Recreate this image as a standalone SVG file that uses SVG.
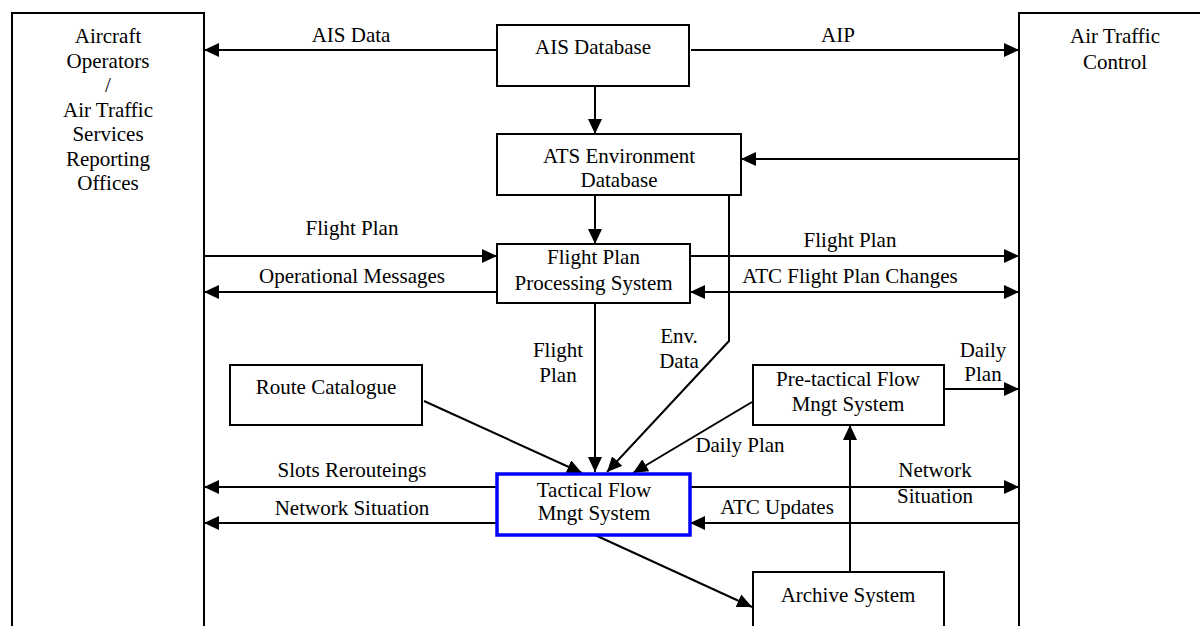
<svg xmlns="http://www.w3.org/2000/svg" width="1200" height="626" viewBox="0 0 1200 626">
  <style>
    .box { fill: #ffffff; stroke: #000000; stroke-width: 2; }
    .focus { fill: #ffffff; stroke: #0000ff; stroke-width: 3.5; }
    .edge { fill: none; stroke: #000000; stroke-width: 2; }
    text { font-family: "Liberation Serif", "Times New Roman", serif; font-size: 21px; fill: #000000; text-anchor: middle; }
  </style>
  <defs>
    <marker id="arrow" viewBox="0 0 15 14" refX="15" refY="7" markerWidth="15" markerHeight="14" markerUnits="userSpaceOnUse" orient="auto-start-reverse">
      <path d="M0,0 L15,7 L0,14 z" fill="#000000"/>
    </marker>
  </defs>
  <rect width="1200" height="626" fill="#ffffff"/>

  <!-- connectors -->
  <g id="connectors" class="edges">
    <path class="edge" d="M497,50 H204" marker-end="url(#arrow)"/>
    <path class="edge" d="M691,50 H1019" marker-end="url(#arrow)"/>
    <path class="edge" d="M595,86 V134" marker-end="url(#arrow)"/>
    <path class="edge" d="M1019,159 H741" marker-end="url(#arrow)"/>
    <path class="edge" d="M595,195 V244" marker-end="url(#arrow)"/>
    <path class="edge" d="M729,195 V341 L607,472" marker-end="url(#arrow)"/>
    <path class="edge" d="M204,256 H497" marker-end="url(#arrow)"/>
    <path class="edge" d="M497,292 H204" marker-end="url(#arrow)"/>
    <path class="edge" d="M690,256 H1019" marker-end="url(#arrow)"/>
    <path class="edge" d="M690,292 H1019" marker-start="url(#arrow)" marker-end="url(#arrow)"/>
    <path class="edge" d="M595,303 V472" marker-end="url(#arrow)"/>
    <path class="edge" d="M424,401 L582,473" marker-end="url(#arrow)"/>
    <path class="edge" d="M752,402 L633,473" marker-end="url(#arrow)"/>
    <path class="edge" d="M944,389 H1019" marker-end="url(#arrow)"/>
    <path class="edge" d="M497,487 H204" marker-end="url(#arrow)"/>
    <path class="edge" d="M497,523 H204" marker-end="url(#arrow)"/>
    <path class="edge" d="M690,487 H1019" marker-end="url(#arrow)"/>
    <path class="edge" d="M1019,523 H690" marker-end="url(#arrow)"/>
    <path class="edge" d="M850,572 V425" marker-end="url(#arrow)"/>
    <path class="edge" d="M595,535 L752,607" marker-end="url(#arrow)"/>

    <text x="351" y="42">AIS Data</text>
    <text x="838" y="42">AIP</text>
    <text x="352" y="235">Flight Plan</text>
    <text x="352" y="283">Operational Messages</text>
    <text x="850" y="247">Flight Plan</text>
    <text x="850" y="283">ATC Flight Plan Changes</text>
    <text x="558" y="357">Flight</text>
    <text x="558" y="382">Plan</text>
    <text x="679" y="343">Env.</text>
    <text x="679" y="368">Data</text>
    <text x="983" y="357">Daily</text>
    <text x="983" y="381">Plan</text>
    <text x="740" y="452">Daily Plan</text>
    <text x="352" y="477">Slots Rerouteings</text>
    <text x="352" y="515">Network Situation</text>
    <text x="935" y="477">Network</text>
    <text x="935" y="503">Situation</text>
    <text x="777" y="514">ATC Updates</text>
  </g>

  <!-- external actors -->
  <g id="aircraft-operators">
    <path class="edge" d="M12,640 V13 H204 V640"/>
    <text x="108" y="43">Aircraft</text>
    <text x="108" y="67.5">Operators</text>
    <text x="108" y="92">/</text>
    <text x="108" y="116.5">Air Traffic</text>
    <text x="108" y="141">Services</text>
    <text x="108" y="165.5">Reporting</text>
    <text x="108" y="190">Offices</text>
  </g>
  <g id="air-traffic-control">
    <path class="edge" d="M1019,640 V13 H1210"/>
    <text x="1115" y="43">Air Traffic</text>
    <text x="1115" y="69">Control</text>
  </g>

  <!-- systems -->
  <g id="ais-database">
    <rect class="box" x="497" y="25" width="192" height="61"/>
    <text x="593" y="54">AIS Database</text>
  </g>
  <g id="ats-environment-database">
    <rect class="box" x="497" y="134" width="244" height="61"/>
    <text x="619" y="163">ATS Environment</text>
    <text x="619" y="187">Database</text>
  </g>
  <g id="flight-plan-processing">
    <rect class="box" x="497" y="244" width="193" height="59"/>
    <text x="593.5" y="264">Flight Plan</text>
    <text x="593.5" y="290">Processing System</text>
  </g>
  <g id="route-catalogue">
    <rect class="box" x="230" y="365" width="192" height="60"/>
    <text x="326" y="394">Route Catalogue</text>
  </g>
  <g id="pre-tactical-flow">
    <rect class="box" x="753" y="365" width="191" height="60"/>
    <text x="848" y="386">Pre-tactical Flow</text>
    <text x="848" y="411">Mngt System</text>
  </g>
  <g id="tactical-flow">
    <rect class="focus" x="497" y="474" width="193" height="61"/>
    <text x="594" y="497">Tactical Flow</text>
    <text x="594" y="520">Mngt System</text>
  </g>
  <g id="archive-system">
    <rect class="box" x="753" y="572" width="191" height="70"/>
    <text x="848" y="602">Archive System</text>
  </g>
</svg>
